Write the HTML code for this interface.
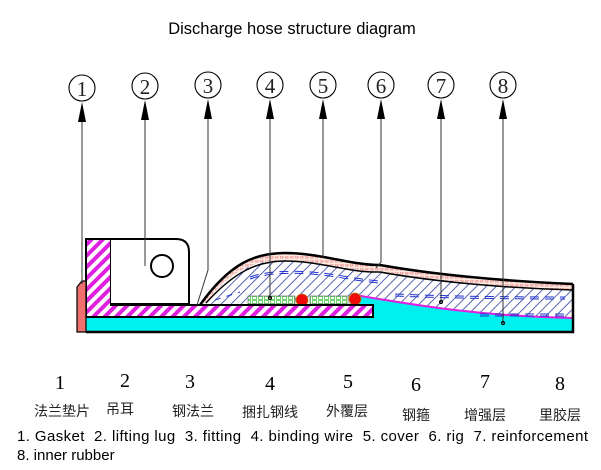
<!DOCTYPE html>
<html><head><meta charset="utf-8"><style>
html,body{margin:0;padding:0;background:#fff;width:601px;height:470px;overflow:hidden}
svg{display:block}
</style></head><body>
<svg width="601" height="470" viewBox="0 0 601 470" xmlns="http://www.w3.org/2000/svg">
<defs>
<pattern id="mh" patternUnits="userSpaceOnUse" width="8" height="8" patternTransform="rotate(45)">
<rect width="8" height="8" fill="#fff"/><rect width="4" height="8" fill="#e020e0"/></pattern>
<pattern id="bh" patternUnits="userSpaceOnUse" width="7" height="7" patternTransform="rotate(45)">
<rect width="7" height="7" fill="#fff"/><rect width="0.8" height="7" fill="#3040a0"/></pattern>
<pattern id="pk" patternUnits="userSpaceOnUse" width="5" height="4">
<rect width="5" height="4" fill="#fde8e0"/><rect x="0" y="0" width="3" height="2" fill="none" stroke="#e07070" stroke-width="0.6"/></pattern>
<pattern id="gn" patternUnits="userSpaceOnUse" width="6" height="4">
<rect width="6" height="4" fill="#f0fff0"/><rect x="0.5" y="0.5" width="4" height="3" fill="none" stroke="#40c040" stroke-width="0.7"/></pattern>
</defs>
<text x="292" y="34" font-family="Liberation Sans, sans-serif" font-size="16.5" text-anchor="middle">Discharge hose structure diagram</text>

<path d="M86,317 L355,317 L355,295 C420,306 480,316 573,318 L573,332 L86,332 Z" fill="#00f0f0"/>
<path d="M200,305 C230,270 255,260 285,260 C320,260 350,272 380,271 C430,280 500,287 573,290 L573,318 C480,316 420,306 355,295 L355,305 Z" fill="url(#bh)"/>
<path d="M200,305 C230,263 255,253 285,253 C320,253 350,265 380,265 C430,274 500,281 573,284 L573,290 C500,287 430,280 380,271 C350,272 320,260 285,260 C255,260 230,270 204,305 Z" fill="url(#pk)"/>
<path d="M200,305 C230,263 255,253 285,253 C320,253 350,265 380,265 C430,274 500,281 573,284" fill="none" stroke="#000" stroke-width="2.5"/>
<path d="M206,303 C235,271 258,261 285,261 C320,261 350,273 380,272 C430,281 500,288 573,290" fill="none" stroke="#000" stroke-width="1.5"/>
<path d="M355,295 C420,306 480,316 573,318" fill="none" stroke="#e020e0" stroke-width="2"/>
<g stroke="#2030d0" stroke-width="1" fill="none" stroke-dasharray="9,6">
<path d="M250,277 C270,270 300,270 330,274 C350,277 365,280 380,281"/>
<path d="M250,279 C270,272 300,272 330,276 C350,279 365,282 380,283"/>
<path d="M395,294 C440,296 500,297 565,297"/>
<path d="M395,296 C440,298 500,299 565,299"/>
<path d="M480,314 L565,314"/><path d="M480,316 L565,316"/>
<path d="M215,300 L240,292" stroke-dasharray="6,6"/>
</g>
<rect x="248" y="296" width="47" height="8" fill="url(#gn)" stroke="#555" stroke-width="0.6"/>
<rect x="310" y="296" width="38" height="8" fill="url(#gn)" stroke="#555" stroke-width="0.6"/>
<circle cx="302" cy="300" r="6" fill="#f00a0a" stroke="#b08000" stroke-width="0.8"/>
<circle cx="355" cy="299" r="6" fill="#f00a0a" stroke="#b08000" stroke-width="0.8"/>
<path d="M86,239 L111,239 L111,305 L373,305 L373,317 L86,317 Z" fill="url(#mh)" stroke="#000" stroke-width="2"/>
<path d="M111,239 L176,239 Q189,239 189,252 L189,304 L111,304" fill="#fff" stroke="#000" stroke-width="2"/>
<circle cx="162" cy="266" r="11" fill="#fff" stroke="#000" stroke-width="2"/>
<path d="M77,287 L82,281 L86,281 L86,332 L77,332 Z" fill="#f07070" stroke="#000" stroke-width="1.2"/>
<path d="M86,332 L573,332 L573,284" fill="none" stroke="#000" stroke-width="2.5"/>
<g stroke="#333" stroke-width="1" fill="none">
<path d="M82,118 V284"/><path d="M145,118 V266"/><path d="M208,118 V270 L197,305"/>
<path d="M270,118 V298"/><path d="M323,118 V258"/><path d="M381,118 V262 L376,268"/>
<path d="M441,118 V302"/><path d="M503,118 V323"/>
</g>
<g fill="#000">
<path d="M82,102 l-4,20 h8z"/><path d="M145,100 l-4,20 h8z"/><path d="M208,99 l-4,20 h8z"/>
<path d="M270,99 l-4,20 h8z"/><path d="M323,99 l-4,20 h8z"/><path d="M381,99 l-4,20 h8z"/>
<path d="M441,99 l-4,20 h8z"/><path d="M503,99 l-4,20 h8z"/>
</g>
<g fill="none" stroke="#000" stroke-width="1.2">
<circle cx="441" cy="302" r="1.5"/><circle cx="503" cy="323" r="1.5"/><circle cx="270" cy="298" r="1.5"/>
</g>
<g fill="none" stroke="#000" stroke-width="1.1">
<circle cx="82" cy="88" r="13"/><circle cx="145" cy="86" r="13"/><circle cx="208" cy="85" r="13"/>
<circle cx="270" cy="85" r="13"/><circle cx="323" cy="85" r="13"/><circle cx="381" cy="85" r="13"/>
<circle cx="441" cy="85" r="13"/><circle cx="503" cy="85" r="13"/>
</g>
<g font-family="Liberation Serif, serif" font-size="21" text-anchor="middle" fill="#222">
<text x="82" y="96">1</text><text x="145" y="94">2</text><text x="208" y="93">3</text><text x="270" y="93">4</text>
<text x="323" y="93">5</text><text x="381" y="93">6</text><text x="441" y="93">7</text><text x="503" y="93">8</text>
</g>
<g font-family="Liberation Serif, serif" font-size="20" text-anchor="middle">
<text x="60" y="389">1</text><text x="125" y="387">2</text><text x="190" y="388">3</text><text x="270" y="390">4</text>
<text x="348" y="388">5</text><text x="416" y="391">6</text><text x="485" y="388">7</text><text x="560" y="390">8</text>
</g>
<g font-family="Liberation Sans, 'Noto Sans CJK SC', sans-serif" font-size="14" text-anchor="middle" fill="#222">
<text x="62" y="416">法兰垫片</text><text x="120" y="414">吊耳</text><text x="193" y="416">钢法兰</text><text x="270" y="417">捆扎钢线</text>
<text x="347" y="416">外覆层</text><text x="416" y="420">钢箍</text><text x="485" y="420">增强层</text><text x="560" y="420">里胶层</text>
</g>
<g font-family="Liberation Sans, sans-serif" font-size="15" fill="#000">
<text x="17" y="441" textLength="571" lengthAdjust="spacing" xml:space="preserve">1. Gasket  2. lifting lug  3. fitting  4. binding wire  5. cover  6. rig  7. reinforcement</text>
<text x="17" y="460">8. inner rubber</text>
</g>
</svg>
</body></html>
